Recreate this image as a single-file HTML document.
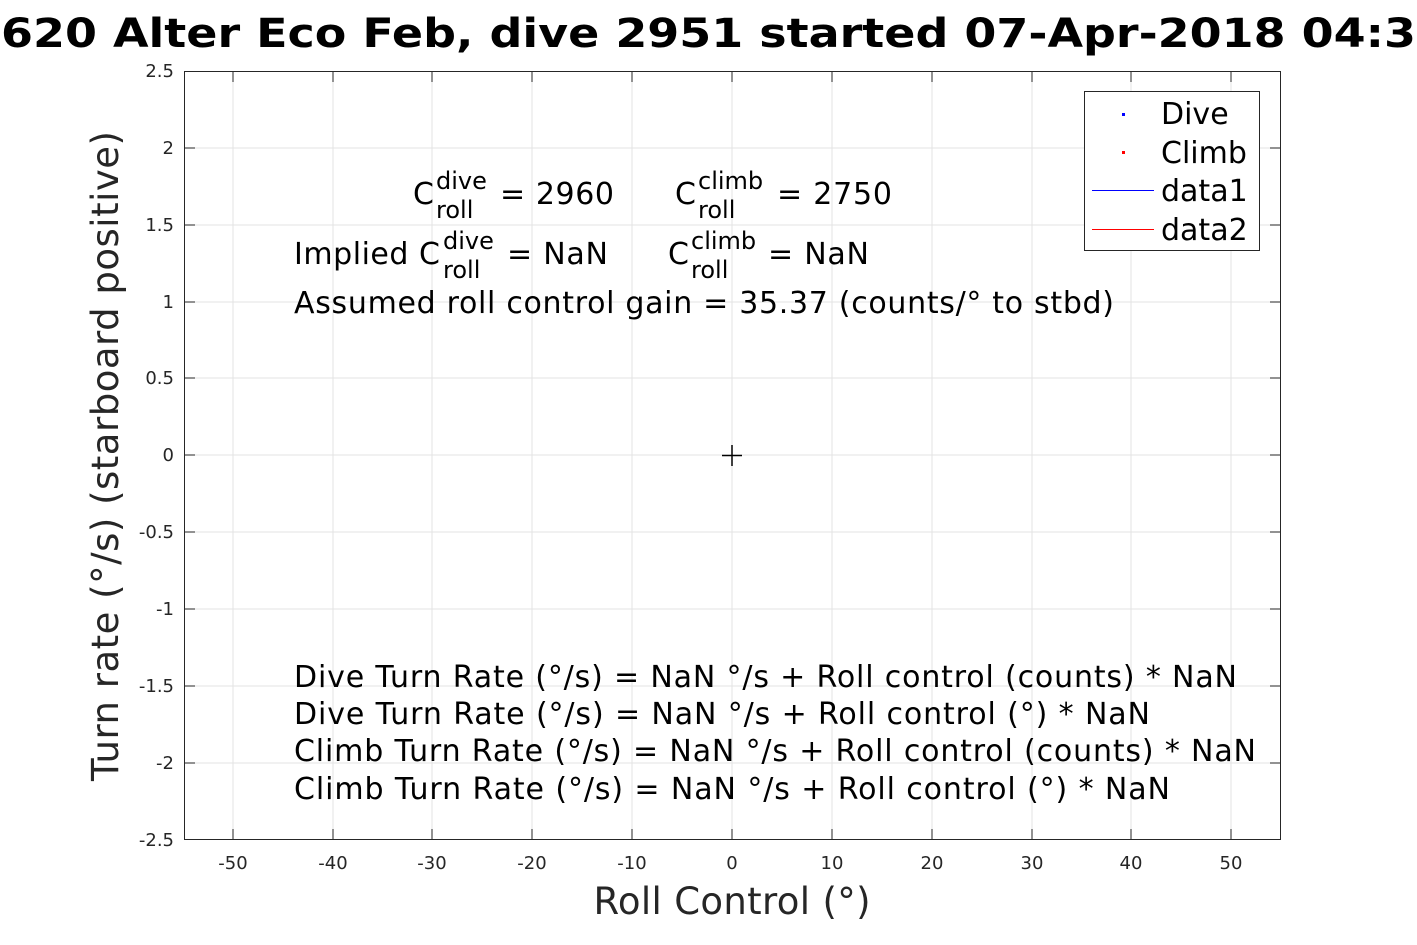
<!DOCTYPE html>
<html><head><meta charset="utf-8"><style>body{margin:0;background:#fff}svg{display:block}text{font-family:"DejaVu Sans","Liberation Sans",sans-serif}</style></head>
<body>
<svg width="1417" height="945" viewBox="0 0 1417 945" xmlns="http://www.w3.org/2000/svg">
<rect width="1417" height="945" fill="#fff"/>
<text x="0" y="47" font-size="40" font-weight="bold" text-anchor="end">SG</text>
<text x="1" y="47" font-size="40" font-weight="bold" textLength="1415" lengthAdjust="spacingAndGlyphs">620 Alter Eco Feb, dive 2951 started 07-Apr-2018 04:3</text>
<rect x="184" y="71" width="1097" height="769" fill="#fff"/>
<g stroke="#e3e3e3" stroke-width="1">
<line x1="233" y1="71" x2="233" y2="840"/><line x1="333" y1="71" x2="333" y2="840"/><line x1="432" y1="71" x2="432" y2="840"/><line x1="532" y1="71" x2="532" y2="840"/><line x1="632" y1="71" x2="632" y2="840"/><line x1="732" y1="71" x2="732" y2="840"/><line x1="832" y1="71" x2="832" y2="840"/><line x1="932" y1="71" x2="932" y2="840"/><line x1="1032" y1="71" x2="1032" y2="840"/><line x1="1131" y1="71" x2="1131" y2="840"/><line x1="1231" y1="71" x2="1231" y2="840"/>
<line x1="184" y1="148" x2="1281" y2="148"/><line x1="184" y1="225" x2="1281" y2="225"/><line x1="184" y1="302" x2="1281" y2="302"/><line x1="184" y1="378" x2="1281" y2="378"/><line x1="184" y1="455" x2="1281" y2="455"/><line x1="184" y1="532" x2="1281" y2="532"/><line x1="184" y1="609" x2="1281" y2="609"/><line x1="184" y1="686" x2="1281" y2="686"/><line x1="184" y1="763" x2="1281" y2="763"/>
</g>
<rect x="184.5" y="71.5" width="1096" height="768" fill="none" stroke="#262626" stroke-width="1"/>
<g stroke="#262626" stroke-width="1">
<line x1="184" y1="148" x2="195" y2="148"/><line x1="184" y1="225" x2="195" y2="225"/><line x1="184" y1="302" x2="195" y2="302"/><line x1="184" y1="378" x2="195" y2="378"/><line x1="184" y1="455" x2="195" y2="455"/><line x1="184" y1="532" x2="195" y2="532"/><line x1="184" y1="609" x2="195" y2="609"/><line x1="184" y1="686" x2="195" y2="686"/><line x1="184" y1="763" x2="195" y2="763"/>
<line x1="1270" y1="148" x2="1281" y2="148"/><line x1="1270" y1="225" x2="1281" y2="225"/><line x1="1270" y1="302" x2="1281" y2="302"/><line x1="1270" y1="378" x2="1281" y2="378"/><line x1="1270" y1="455" x2="1281" y2="455"/><line x1="1270" y1="532" x2="1281" y2="532"/><line x1="1270" y1="609" x2="1281" y2="609"/><line x1="1270" y1="686" x2="1281" y2="686"/><line x1="1270" y1="763" x2="1281" y2="763"/>
<line x1="233" y1="71" x2="233" y2="82"/><line x1="333" y1="71" x2="333" y2="82"/><line x1="432" y1="71" x2="432" y2="82"/><line x1="532" y1="71" x2="532" y2="82"/><line x1="632" y1="71" x2="632" y2="82"/><line x1="732" y1="71" x2="732" y2="82"/><line x1="832" y1="71" x2="832" y2="82"/><line x1="932" y1="71" x2="932" y2="82"/><line x1="1032" y1="71" x2="1032" y2="82"/><line x1="1131" y1="71" x2="1131" y2="82"/><line x1="1231" y1="71" x2="1231" y2="82"/>
<line x1="233" y1="829" x2="233" y2="840"/><line x1="333" y1="829" x2="333" y2="840"/><line x1="432" y1="829" x2="432" y2="840"/><line x1="532" y1="829" x2="532" y2="840"/><line x1="632" y1="829" x2="632" y2="840"/><line x1="732" y1="829" x2="732" y2="840"/><line x1="832" y1="829" x2="832" y2="840"/><line x1="932" y1="829" x2="932" y2="840"/><line x1="1032" y1="829" x2="1032" y2="840"/><line x1="1131" y1="829" x2="1131" y2="840"/><line x1="1231" y1="829" x2="1231" y2="840"/>
</g>
<g font-size="18" fill="#262626" text-anchor="end">
<text x="174" y="77">2.5</text><text x="174" y="154">2</text><text x="174" y="231">1.5</text><text x="174" y="308">1</text><text x="174" y="384">0.5</text><text x="174" y="461">0</text><text x="174" y="538">-0.5</text><text x="174" y="615">-1</text><text x="174" y="692">-1.5</text><text x="174" y="769">-2</text><text x="174" y="846">-2.5</text>
</g>
<g font-size="18" fill="#262626" text-anchor="middle">
<text x="233" y="869">-50</text><text x="333" y="869">-40</text><text x="432" y="869">-30</text><text x="532" y="869">-20</text><text x="632" y="869">-10</text><text x="732" y="869">0</text><text x="832" y="869">10</text><text x="932" y="869">20</text><text x="1032" y="869">30</text><text x="1131" y="869">40</text><text x="1231" y="869">50</text>
</g>
<text x="732" y="914" font-size="37" fill="#262626" text-anchor="middle" textLength="277">Roll Control (°)</text>
<text transform="translate(118,456) rotate(-90)" font-size="37" fill="#262626" text-anchor="middle" textLength="650">Turn rate (°/s) (starboard positive)</text>
<g stroke="#000" stroke-width="1.5"><line x1="722" y1="455.5" x2="742" y2="455.5"/><line x1="732" y1="445" x2="732" y2="466"/></g>
<g font-size="30" fill="#000">
<text x="413" y="204">C</text><text x="436" y="189" font-size="24">dive</text><text x="436" y="218" font-size="24">roll</text><text x="500" y="204" textLength="114">= 2960</text>
<text x="675" y="204">C</text><text x="698" y="189" font-size="24">climb</text><text x="698" y="218" font-size="24">roll</text><text x="777" y="204" textLength="115">= 2750</text>
<text x="294" y="264" textLength="146">Implied C</text><text x="443" y="249" font-size="24">dive</text><text x="443" y="278" font-size="24">roll</text><text x="507" y="264" textLength="101">= NaN</text>
<text x="668" y="264">C</text><text x="691" y="249" font-size="24">climb</text><text x="691" y="278" font-size="24">roll</text><text x="768" y="264" textLength="101">= NaN</text>
<text x="294" y="313" textLength="820">Assumed roll control gain = 35.37 (counts/° to stbd)</text>
<text x="294" y="687" textLength="943">Dive Turn Rate (°/s) = NaN °/s + Roll control (counts) * NaN</text>
<text x="294" y="724" textLength="856">Dive Turn Rate (°/s) = NaN °/s + Roll control (°) * NaN</text>
<text x="294" y="761" textLength="962">Climb Turn Rate (°/s) = NaN °/s + Roll control (counts) * NaN</text>
<text x="294" y="799" textLength="876">Climb Turn Rate (°/s) = NaN °/s + Roll control (°) * NaN</text>
</g>
<rect x="1084.5" y="91.5" width="175" height="159" fill="#fff" stroke="#262626" stroke-width="1"/>
<rect x="1122" y="113" width="3" height="3" fill="#00f"/>
<rect x="1122" y="151" width="3" height="3" fill="#f00"/>
<line x1="1092" y1="190.5" x2="1154" y2="190.5" stroke="#00f" stroke-width="1"/>
<line x1="1092" y1="229.5" x2="1154" y2="229.5" stroke="#f00" stroke-width="1"/>
<g font-size="30" fill="#000">
<text x="1161" y="124">Dive</text><text x="1161" y="163">Climb</text><text x="1161" y="201">data1</text><text x="1161" y="240">data2</text>
</g>
</svg>
</body></html>
